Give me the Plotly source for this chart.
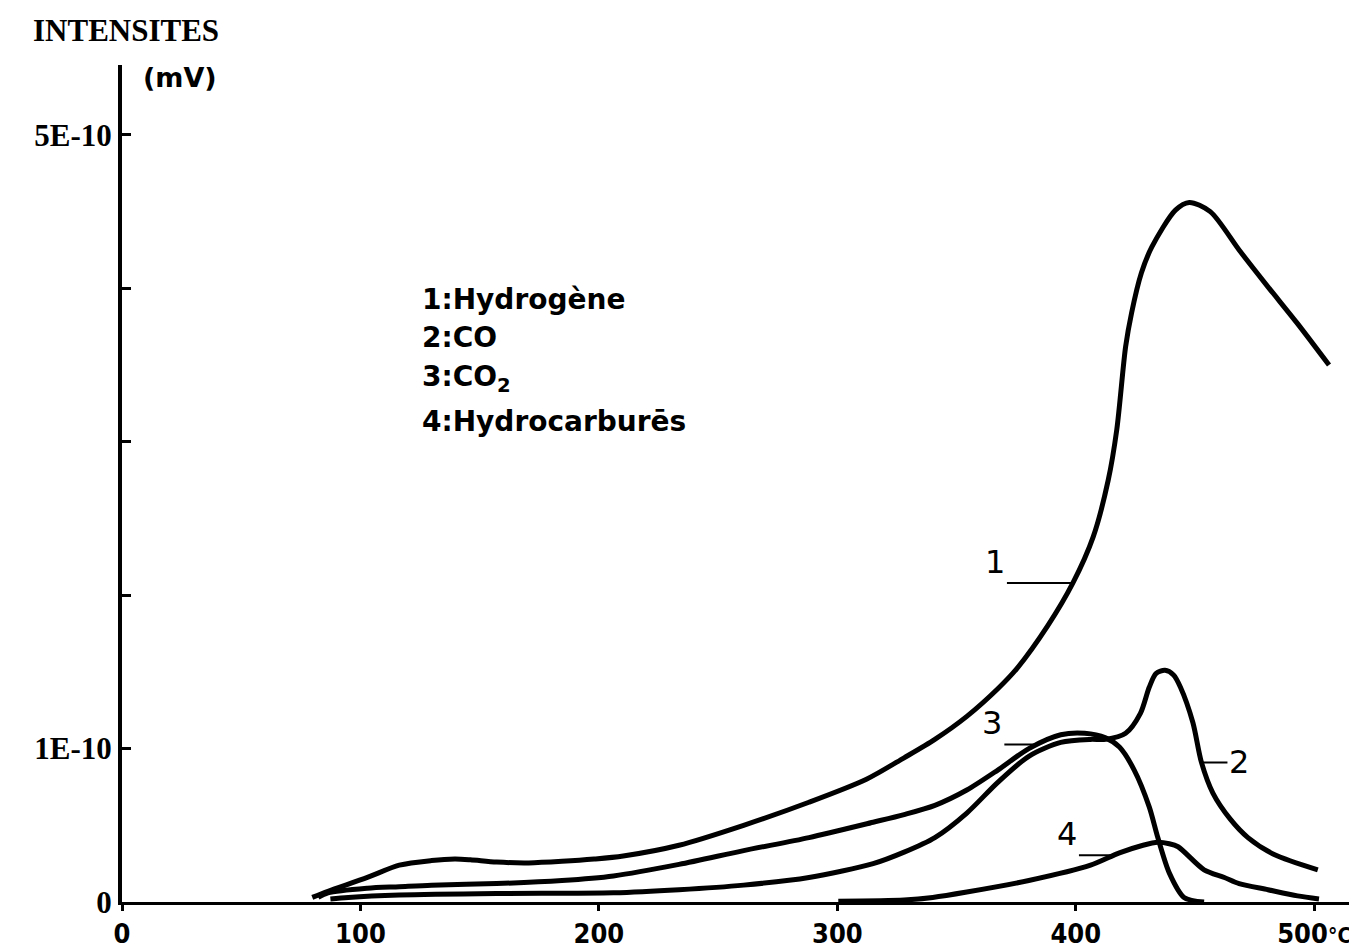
import numpy as np
import plotly.graph_objects as go

# ---------------- data (temperature in °C, intensity in units of 1E-10) ----------------
t_h2 = [79.8, 86.4, 102.9, 116.3, 129.8, 139.6, 146.1, 157.1, 170.6, 184.5, 198.0, 210.2,
        233.6, 260.7, 288.1, 312.2, 328.0, 340.9, 354.3, 367.3, 375.2, 388.2, 398.8, 407.3,
        413.6, 417.2, 420.9, 423.4, 427.5, 431.9, 441.8, 447.6, 456.4, 468.5, 480.6, 493.0, 506.2]
v_h2 = [0.03, 0.07, 0.16, 0.24, 0.27, 0.28, 0.275, 0.26, 0.255, 0.265, 0.28, 0.30,
        0.37, 0.50, 0.65, 0.80, 0.94, 1.06, 1.21, 1.39, 1.52, 1.80, 2.08, 2.38,
        2.75, 3.08, 3.62, 3.84, 4.10, 4.27, 4.51, 4.56, 4.50, 4.25, 4.01, 3.77, 3.50]

t_co = [87.4, 94.9, 116.3, 157.1, 206.1, 233.6, 260.7, 288.1, 315.0, 328.0, 340.9, 354.3,
        367.3, 380.3, 393.7, 406.2, 412.5, 420.9, 427.1, 430.8, 433.7, 437.4, 441.0, 443.9,
        449.1, 452.7, 457.5, 464.8, 472.2, 483.2, 501.5]
v_co = [0.02, 0.03, 0.045, 0.055, 0.06, 0.08, 0.11, 0.16, 0.25, 0.325, 0.42, 0.58,
        0.78, 0.95, 1.04, 1.06, 1.06, 1.10, 1.23, 1.40, 1.49, 1.51, 1.48, 1.40,
        1.17, 0.91, 0.71, 0.54, 0.42, 0.31, 0.21]

t_co2 = [82.3, 86.4, 102.9, 116.3, 129.8, 157.1, 184.5, 206.1, 233.6, 260.7, 288.1, 315.0,
         328.0, 340.9, 354.3, 367.3, 380.3, 393.7, 403.7, 412.5, 418.3, 424.5, 430.8, 434.4,
         439.2, 445.4, 453.8]
v_co2 = [0.03, 0.06, 0.09, 0.10, 0.11, 0.12, 0.14, 0.17, 0.245, 0.335, 0.42, 0.52,
         0.57, 0.63, 0.73, 0.86, 1.00, 1.09, 1.10, 1.07, 1.01, 0.86, 0.62, 0.42,
         0.19, 0.03, 0.0]

t_hc = [300.4, 328.0, 340.0, 354.3, 380.3, 406.2, 418.3, 428.2, 434.4, 439.2, 442.9, 453.8,
        462.3, 468.5, 480.6, 493.0, 502.0]
v_hc = [0.005, 0.013, 0.03, 0.065, 0.14, 0.24, 0.32, 0.37, 0.39, 0.38, 0.36, 0.21,
        0.16, 0.12, 0.08, 0.04, 0.02]

unit = 1e-10
x_tickvals = [0, 100, 200, 300, 400, 500]
x_ticktext = ["0", "100", "200", "300", "400", "500<span style='font-size:21px'>°C</span>"]
y_tickvals = [0, 1, 5]
y_ticktext = ["0", "1E-10", "5E-10"]
y_minor_tickvals = [2, 3, 4]

legend_lines = ["1:Hydrogène", "2:CO", "3:CO<sub>2</sub>", "4:Hydrocarburēs"]
curve_labels = ["1", "2", "3", "4"]
label_temps = [398.8, 452.7, 384.3, 416.0]

series = [(t_h2, v_h2), (t_co, v_co), (t_co2, v_co2), (t_hc, v_hc)]

# ---------------- figure (page body has an 8px margin) ----------------
OFF = 8
W, H = 1357 - OFF, 950 - OFF
PL, PR, PT, PB = 122, 1350, 65, 902          # plot area in page pixels
ML, MT = PL - OFF, PT - OFF
MR, MB = W - (PR - OFF), H - (PB - OFF)


def px(xp):
    return (xp - PL) / (PR - PL)


def py(yp):
    return (PB - yp) / (PB - PT)


fig = go.Figure()
for t, v in series:
    fig.add_trace(go.Scatter(
        x=t, y=[val * unit for val in v], mode="lines",
        line=dict(color="black", width=5, shape="spline", smoothing=0.8),
        showlegend=False, hoverinfo="skip"))

serif = "Liberation Serif, DejaVu Serif, serif"
narrow = "Liberation Sans Narrow, DejaVu Sans Condensed, sans-serif"
sans = "DejaVu Sans, Verdana, sans-serif"

fig.update_layout(
    width=W, height=H,
    margin=dict(l=ML, r=MR, t=MT, b=MB, autoexpand=False),
    paper_bgcolor="white", plot_bgcolor="white",
    xaxis=dict(range=[0, 515], showline=True, linecolor="black", linewidth=2.5,
               ticks="outside", ticklen=6, tickwidth=2.5, tickcolor="black",
               tickvals=x_tickvals, ticktext=x_ticktext, ticklabelstandoff=0,
               ticklabeloverflow="allow",
               tickfont=dict(family=narrow, size=27, color="black", weight="bold"),
               showgrid=False, zeroline=False),
    yaxis=dict(range=[0, 5.456 * unit], showline=True, linecolor="black", linewidth=4,
               ticks="inside", ticklen=9, tickwidth=3, tickcolor="black",
               tickvals=[v * unit for v in y_tickvals], ticktext=y_ticktext,
               ticklabelstandoff=0, ticklabeloverflow="allow",
               minor=dict(tickvals=[v * unit for v in y_minor_tickvals], ticks="inside",
                          ticklen=9, tickwidth=3, tickcolor="black", showgrid=False),
               tickfont=dict(family=serif, size=31, color="black", weight="bold"),
               showgrid=False, zeroline=False),
)

annotations = [
    dict(text="INTENSITES", x=px(126), y=py(30), xref="paper", yref="paper",
         xanchor="center", yanchor="middle", showarrow=False,
         font=dict(family=serif, size=31, color="black", weight="bold")),
    dict(text="(mV)", x=px(180), y=py(78), xref="paper", yref="paper",
         xanchor="center", yanchor="middle", showarrow=False,
         font=dict(family=sans, size=27, color="black", weight="bold")),
]
for txt, yp in zip(legend_lines, [299, 337, 378, 421]):
    annotations.append(dict(text=txt, x=px(420), y=py(yp), xref="paper", yref="paper",
                            xanchor="left", yanchor="middle", showarrow=False,
                            font=dict(family=sans, size=28, color="black", weight="bold")))

# leader length (px) and label side for each curve label
leaders = {"1": (-66, "right", "bottom"), "2": (26, "left", "middle"),
           "3": (-34, "right", "bottom"), "4": (-35, "right", "bottom")}
for lab, tl, (t, v) in zip(curve_labels, label_temps, series):
    yv = float(np.interp(tl, t, v)) * unit
    ax, xanc, yanc = leaders[lab]
    annotations.append(dict(text=lab, x=tl, y=yv, xref="x", yref="y",
                            showarrow=True, arrowhead=0, arrowwidth=2, arrowcolor="black",
                            ax=ax, ay=0, standoff=0, startstandoff=0,
                            xanchor=xanc, yanchor=yanc,
                            font=dict(family=sans, size=32, color="black")))

fig.update_layout(annotations=annotations)
fig.write_html("out.html")
